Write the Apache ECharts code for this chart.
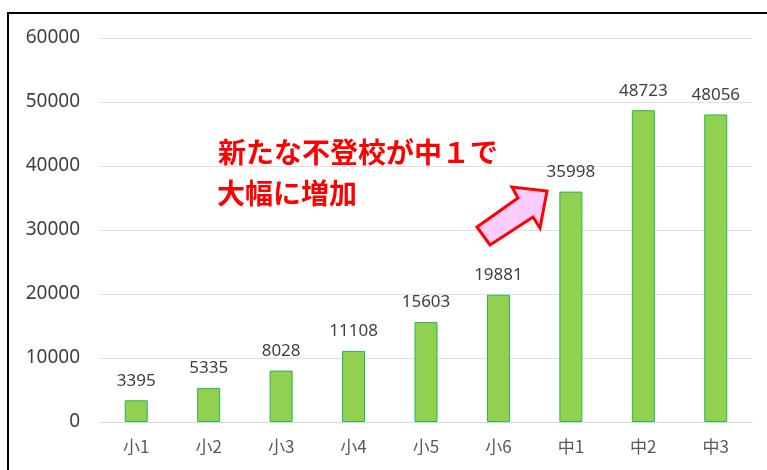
<!DOCTYPE html>
<html>
<head>
<meta charset="utf-8">
<script src="https://cdn.jsdelivr.net/npm/echarts@6/dist/echarts.min.js"></script>
<style>
html,body{margin:0;padding:0;background:#fff;}
#c{width:767px;height:470px;}
</style>
</head>
<body>
<div id="c"></div>
<script>
var categories = ['小1','小2','小3','小4','小5','小6','中1','中2','中3'];
var values = [3395, 5335, 8028, 11108, 15603, 19881, 35998, 48723, 48056];
var yTicks = [0, 10000, 20000, 30000, 40000, 50000, 60000];
var noteLines = ['新たな不登校が中１で', '大幅に増加'];

var chart = echarts.init(document.getElementById('c'), null, {renderer: 'canvas'});
var option = {
  animation: false,
  backgroundColor: '#ffffff',
  grid: {left: 100, right: 15, top: 38, bottom: 48},
  xAxis: {
    type: 'category',
    data: categories,
    axisLine: {lineStyle: {color: '#d9d9d9', width: 1}},
    axisTick: {show: false},
    axisLabel: {color: '#595959', fontSize: 17, fontFamily: 'Noto Sans CJK JP', margin: 16}
  },
  yAxis: {
    type: 'value',
    min: yTicks[0],
    max: yTicks[yTicks.length - 1],
    interval: 10000,
    axisLine: {show: false},
    axisTick: {show: false},
    splitLine: {lineStyle: {color: '#e0e0e0', width: 1}},
    axisLabel: {color: '#404040', fontSize: 19, fontFamily: 'Noto Sans', margin: 20,
      formatter: function (v) { return String(v); }}
  },
  series: [{
    type: 'bar',
    data: values,
    barWidth: 23,
    itemStyle: {color: '#92d050', borderColor: '#22b857', borderWidth: 1},
    label: {
      show: true,
      position: 'top',
      distance: 11,
      color: '#404040',
      fontSize: 17,
      fontFamily: 'Noto Sans'
    }
  }],
  graphic: [
    {type: 'rect', shape: {x: 8, y: 13, width: 800, height: 500},
     style: {fill: 'none', stroke: '#000', lineWidth: 2}, z: 100},
    {type: 'text', left: 218, top: 138,
     style: {text: noteLines[0], fill: '#ff0000', font: 'bold 28px "Noto Sans CJK JP"'}, z: 50},
    {type: 'text', left: 217, top: 179,
     style: {text: noteLines[1], fill: '#ff0000', font: 'bold 28px "Noto Sans CJK JP"'}, z: 50},
    {type: 'polygon',
     shape: {points: [[477,227],[518,198],[512,187],[547,191],[540,228],[533,217],[490,245]]},
     style: {fill: '#ffccff', stroke: '#ff0000', lineWidth: 3, lineJoin: 'miter'}, z: 50}
  ]
};
chart.setOption(option);
</script>
</body>
</html>
